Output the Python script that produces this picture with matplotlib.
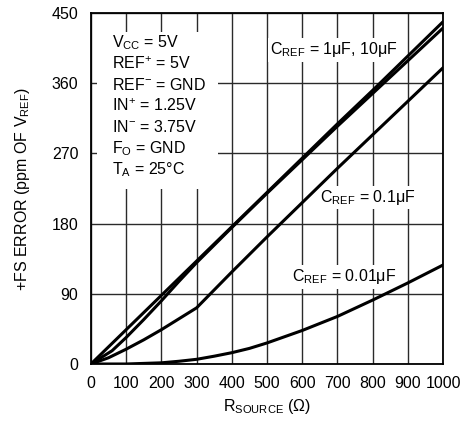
import matplotlib
matplotlib.use("Agg")
import matplotlib.pyplot as plt
from matplotlib.patches import Rectangle

plt.rcParams['font.family'] = ['Liberation Sans Narrow', 'Liberation Sans', 'DejaVu Sans']
plt.rcParams['mathtext.fontset'] = 'custom'
plt.rcParams['mathtext.rm'] = 'Liberation Sans'
plt.rcParams['mathtext.it'] = 'Liberation Sans'
plt.rcParams['mathtext.default'] = 'rm'

# curves (R source in ohm, error in ppm)
r_10u = [0, 100, 200, 300, 400, 500, 600, 700, 800, 900, 1000]
e_10u = [0, 44, 88, 132, 176, 220, 264, 308, 351, 395, 439]

r_1u = [0, 60, 100, 150, 200, 250, 300, 400, 500, 600, 700, 800, 900, 1000]
e_1u = [0, 17, 34, 57, 81, 106, 130, 175, 219, 262, 305, 347, 389, 431]

r_01u = [0, 50, 100, 150, 200, 250, 300, 350, 400, 500, 600, 700, 800, 900, 1000]
e_01u = [0, 8, 19, 31, 44, 58, 72, 95, 118, 163, 207, 251, 294, 337, 380]

r_001u = [0, 100, 200, 250, 300, 350, 400, 450, 500, 600, 700, 800, 900, 1000]
e_001u = [0, 0, 1.5, 3.5, 6, 10, 14.5, 20, 27, 43, 61, 82, 104, 127]

xticks = [0, 100, 200, 300, 400, 500, 600, 700, 800, 900, 1000]
yticks = [0, 90, 180, 270, 360, 450]

cond_lines = [r'V$_{\mathrm{CC}}$ = 5V', r'REF$^{+}$ = 5V', r'REF$^{-}$ = GND',
              r'IN$^{+}$ = 1.25V', r'IN$^{-}$ = 3.75V', r'F$_{\mathrm{O}}$ = GND',
              r'T$_{\mathrm{A}}$ = 25°C']

fig = plt.figure(figsize=(4.64, 4.23), dpi=100)
ax = fig.add_axes([0.196, 0.1395, 0.759, 0.8295])

ax.set_xlim(0, 1000)
ax.set_ylim(0, 450)
ax.set_xticks(xticks)
ax.set_yticks(yticks)
ax.tick_params(length=0, labelsize=11.5, pad=9)
ax.grid(True, color='#2a2a2a', lw=1.0)
ax.set_axisbelow(True)
for s in ax.spines.values():
    s.set_linewidth(1.3)

kw = dict(color='black', lw=2.2, zorder=4, solid_capstyle='round')
ax.plot(r_10u, e_10u, **kw)
ax.plot(r_1u, e_1u, **kw)
ax.plot(r_01u, e_01u, **kw)
ax.plot(r_001u, e_001u, **kw)

# white block behind the conditions text
ax.add_patch(Rectangle((0.017, 0.50), 0.345, 0.445, transform=ax.transAxes,
                       facecolor='white', edgecolor='none', zorder=2))
for i, t in enumerate(cond_lines):
    ax.text(0.06, 0.915 - i * 0.06, t, transform=ax.transAxes, fontsize=11.5,
            va='center', ha='left', zorder=3)

box = dict(facecolor='white', edgecolor='none', pad=1.5)
ax.text(0.69, 0.895, r'C$_{\mathrm{REF}}$ = 1μF, 10μF', transform=ax.transAxes,
        fontsize=11.5, ha='center', va='center', bbox=box, zorder=3)
ax.text(0.785, 0.475, r'C$_{\mathrm{REF}}$ = 0.1μF', transform=ax.transAxes,
        fontsize=11.5, ha='center', va='center', bbox=box, zorder=3)
ax.text(0.72, 0.248, r'C$_{\mathrm{REF}}$ = 0.01μF', transform=ax.transAxes,
        fontsize=11.5, ha='center', va='center', bbox=box, zorder=3)

ax.set_xlabel(r'R$_{\mathrm{SOURCE}}$ (Ω)', fontsize=11.5, labelpad=4)
ax.set_ylabel(r'+FS ERROR (ppm OF V$_{\mathrm{REF}}$)', fontsize=11.5, labelpad=14)

fig.savefig('out.png', dpi=100)
